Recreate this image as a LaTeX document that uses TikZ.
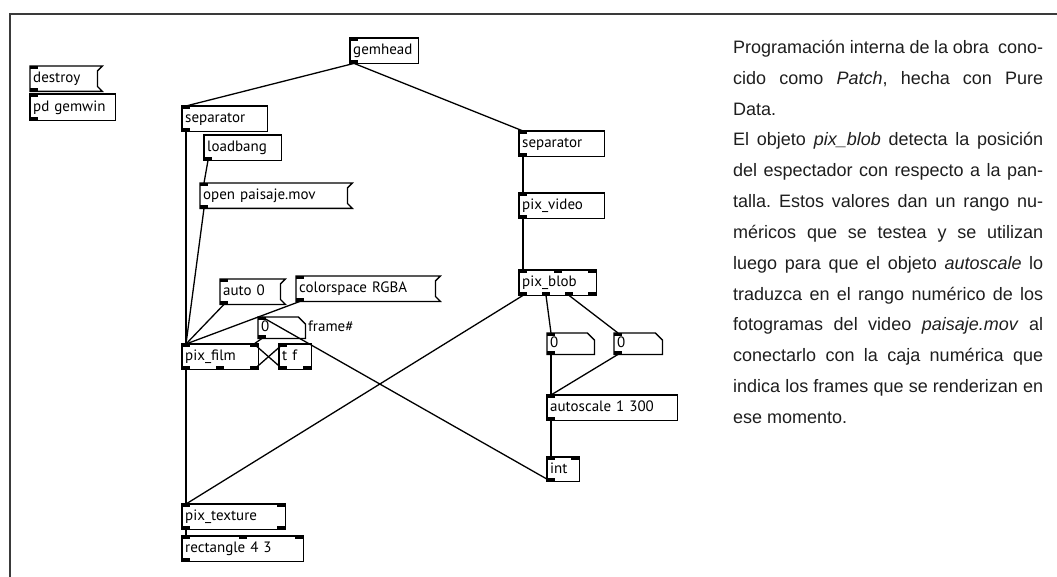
\documentclass[tikz,border=0pt]{standalone}
\usepackage{fontspec}
\setmainfont{Liberation Sans}
\newfontfamily\pdfont{PT Sans}
\definecolor{ink}{HTML}{1E1E1E}
\definecolor{framec}{HTML}{3A3A3A}
\tikzset{
  boxline/.style={draw=black, line width=1.3pt, line join=miter},
  wire/.style={draw=black, line width=1.3pt},
  pdtext/.style={font=\pdfont\fontsize{15}{17}\selectfont, inner xsep=3pt, inner ysep=0pt, anchor=north west, align=left, text height=11pt, text depth=3pt},
  lbl/.style={font=\pdfont\fontsize{15}{17}\selectfont, inner sep=0pt, anchor=base west},
  desc/.style={font=\fontsize{18}{30.83}\selectfont, text=ink, inner sep=0pt, anchor=base west, text width=310pt, align=justify}
}
\newcommand\pdnode[6]{%
  \pgfmathsetmacro\pdtw{#4-6}%
  \node[pdtext, text width=\pdtw pt, minimum height=#5pt] (#1) at (#2,#3) {#6};}
\newcommand\objframe[1]{\draw[boxline] (#1.north west) rectangle (#1.south east);}
\newcommand\msgframe[1]{\draw[boxline] (#1.north west) -- (#1.north east) -- ([shift={(-5pt,-5pt)}]#1.north east) -- ([shift={(-5pt,5pt)}]#1.south east) -- (#1.south east) -- (#1.south west) -- cycle;}
\newcommand\numframe[1]{\draw[boxline] (#1.north west) -- ([xshift=-7pt]#1.north east) -- ([yshift=-7pt]#1.north east) -- (#1.south east) -- (#1.south west) -- cycle;}
\newcommand\inports[3]{%
  \foreach \f [count=\k from 0] in {#3}{%
    \pgfmathsetmacro\xo{\f*(#2-8)}%
    \pgfmathsetmacro\xc{\xo+4}%
    \fill ([xshift=\xo pt]#1.north west) rectangle ++(8pt,-3pt);
    \coordinate (#1-i\k) at ([xshift=\xc pt]#1.north west);
  }}
\newcommand\outports[3]{%
  \foreach \f [count=\k from 0] in {#3}{%
    \pgfmathsetmacro\xo{\f*(#2-8)}%
    \pgfmathsetmacro\xc{\xo+4}%
    \fill ([xshift=\xo pt]#1.south west) rectangle ++(8pt,3pt);
    \coordinate (#1-o\k) at ([xshift=\xc pt]#1.south west);
  }}
\begin{document}
\begin{tikzpicture}[x=1pt, y=-1pt]
\useasboundingbox (0,0) rectangle (1057,577);
\draw[framec, line width=1.4pt] (10,578) -- (10,14) -- (1058,14);

% boxes
\pdnode{destroy}{30}{66}{72}{25}{destroy}\msgframe{destroy}\inports{destroy}{72}{0}\outports{destroy}{72}{0}
\pdnode{gemwin}{30}{94}{85}{26}{pd gemwin}\objframe{gemwin}\inports{gemwin}{85}{0}\outports{gemwin}{85}{0}
\pdnode{gemhead}{350}{38}{68}{25}{gemhead}\objframe{gemhead}\inports{gemhead}{68}{0}\outports{gemhead}{68}{0}
\pdnode{sepL}{182}{106}{85}{25}{separator}\objframe{sepL}\inports{sepL}{85}{0}\outports{sepL}{85}{0}
\pdnode{loadbang}{204}{135}{77}{25}{loadbang}\objframe{loadbang}\outports{loadbang}{77}{0}
\pdnode{openmsg}{200}{183}{152}{25}{open paisaje.mov}\msgframe{openmsg}\inports{openmsg}{152}{0}\outports{openmsg}{152}{0}
\pdnode{sepR}{519}{131}{85}{25}{separator}\objframe{sepR}\inports{sepR}{85}{0}\outports{sepR}{85}{0}
\pdnode{pixvideo}{519}{193}{85}{25}{pix\_video}\objframe{pixvideo}\inports{pixvideo}{85}{0}\outports{pixvideo}{85}{0}
\pdnode{pixblob}{519}{270}{77}{25}{pix\_blob}\objframe{pixblob}\inports{pixblob}{77}{0,0.5,1}\outports{pixblob}{77}{0,0.3333,0.6667,1}
\pdnode{numL}{547}{333}{47}{21}{0}\numframe{numL}\inports{numL}{47}{0}\outports{numL}{47}{0}
\pdnode{numR}{614}{333}{48}{21}{0}\numframe{numR}\inports{numR}{48}{0}\outports{numR}{48}{0}
\pdnode{autoscale}{547}{395}{130}{25}{autoscale 1 300}\objframe{autoscale}\inports{autoscale}{130}{0}\outports{autoscale}{130}{0}
\pdnode{int}{547}{457}{32}{24}{int}\objframe{int}\inports{int}{32}{0,1}\outports{int}{32}{0}
\pdnode{auto0}{220}{279}{65}{25}{auto 0}\msgframe{auto0}\inports{auto0}{65}{0}\outports{auto0}{65}{0}
\pdnode{colorsp}{296}{276}{144}{25}{colorspace RGBA}\msgframe{colorsp}\inports{colorsp}{144}{0}\outports{colorsp}{144}{0}
\pdnode{framenum}{258}{317}{47}{21}{0}\numframe{framenum}\inports{framenum}{47}{0}\outports{framenum}{47}{0}
\node[lbl] (framelbl) at (308,331) {frame\#};
\pdnode{pixfilm}{182}{344}{76}{25}{pix\_film}\objframe{pixfilm}\inports{pixfilm}{76}{0,1}\outports{pixfilm}{76}{0,0.5,1}
\pdnode{tf}{279}{344}{32}{25}{t f}\objframe{tf}\inports{tf}{32}{0}\outports{tf}{32}{0,1}
\pdnode{pixtexture}{182}{504}{103}{25}{pix\_texture}\objframe{pixtexture}\inports{pixtexture}{103}{0,1}\outports{pixtexture}{103}{0,1}
\pdnode{rect}{182}{536}{121}{25}{rectangle 4 3}\objframe{rect}\inports{rect}{121}{0,0.5,1}\outports{rect}{121}{0}

% wires
\draw[wire] (gemhead-o0) -- (sepL-i0);
\draw[wire] (gemhead-o0) -- (sepR-i0);
\draw[wire] (sepL-o0) -- (pixfilm-i0);
\draw[wire] (loadbang-o0) -- (openmsg-i0);
\draw[wire] (openmsg-o0) -- (pixfilm-i0);
\draw[wire] (auto0-o0) -- (pixfilm-i0);
\draw[wire] (colorsp-o0) -- (pixfilm-i0);
\draw[wire] (framenum-o0) -- (pixfilm-i1);
\draw[wire] (pixfilm-o2) -- (tf-i0);
\draw[wire] (tf-o0) -- (pixfilm-i1);
\draw[wire] (int-o0) -- (framenum-i0);
\draw[wire] (pixfilm-o0) -- (pixtexture-i0);
\draw[wire] (pixblob-o0) -- (pixtexture-i0);
\draw[wire] (pixtexture-o0) -- (rect-i0);
\draw[wire] (sepR-o0) -- (pixvideo-i0);
\draw[wire] (pixvideo-o0) -- (pixblob-i0);
\draw[wire] (pixblob-o1) -- (numL-i0);
\draw[wire] (pixblob-o2) -- (numR-i0);
\draw[wire] (numL-o0) -- (autoscale-i0);
\draw[wire] (numR-o0) -- (autoscale-i0);
\draw[wire] (autoscale-o0) -- (int-i0);

% description
\node[desc] (text) at (733,53.5) {\parindent=0pt\frenchspacing\tolerance=10000\pretolerance=-1\hyphenpenalty=10000\hbadness=10000%
Programación interna de la obra\ \ cono-\linebreak
cido como \textit{Patch}, hecha con Pure\linebreak
Data.\par
El objeto \textit{pix\_blob} detecta la posición\linebreak
del espectador con respecto a la pan-\linebreak
talla. Estos valores dan un rango nu-\linebreak
méricos que se testea y se utilizan\linebreak
luego para que el objeto \textit{autoscale} lo\linebreak
traduzca en el rango numérico de los\linebreak
fotogramas del video \textit{paisaje.mov} al\linebreak
conectarlo con la caja numérica que\linebreak
indica los frames que se renderizan en\linebreak
ese momento.};
\end{tikzpicture}
\end{document}
